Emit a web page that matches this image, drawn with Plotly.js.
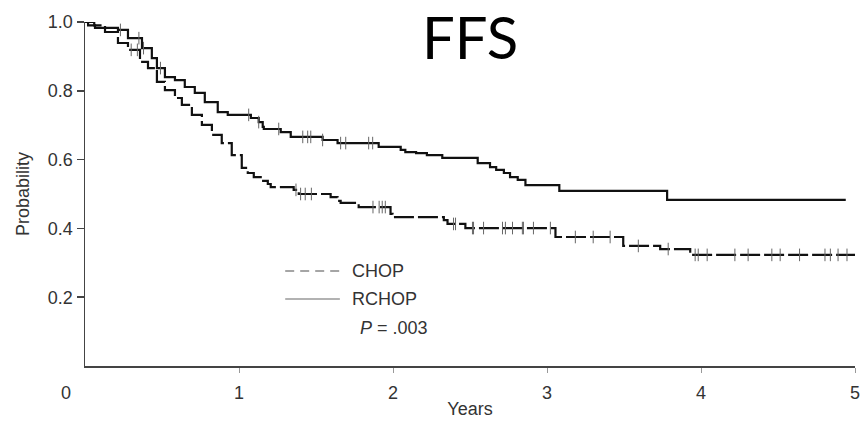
<!DOCTYPE html>
<html>
<head>
<meta charset="utf-8">
<script src="https://cdn.plot.ly/plotly-3.0.1.min.js"></script>
<style>
  html, body { margin: 0; padding: 0; background: #fff; }
  #chart { width: 864px; height: 421px; }
</style>
</head>
<body>
<div id="chart"></div>
<script>
// Kaplan-Meier failure-free survival, years since start of treatment
const rchopTime = [0, 0.02, 0.065, 0.214, 0.279, 0.37, 0.434, 0.467, 0.519, 0.584, 0.648, 0.713, 0.778, 0.862, 0.927, 1.077, 1.128, 1.154, 1.161, 1.271, 1.336, 1.543, 1.64, 1.907, 2.05, 2.08, 2.15, 2.22, 2.32, 2.55, 2.63, 2.67, 2.72, 2.76, 2.81, 2.86, 3.08, 3.78, 4.94];
const rchopSurv = [1.0, 0.99, 0.983, 0.977, 0.953, 0.924, 0.895, 0.866, 0.840, 0.831, 0.811, 0.794, 0.767, 0.738, 0.730, 0.721, 0.709, 0.695, 0.689, 0.680, 0.666, 0.657, 0.648, 0.637, 0.628, 0.622, 0.619, 0.613, 0.605, 0.590, 0.578, 0.570, 0.561, 0.549, 0.541, 0.526, 0.509, 0.483, 0.483];

const chopTime = [0, 0.06, 0.13, 0.214, 0.279, 0.357, 0.409, 0.467, 0.519, 0.584, 0.629, 0.694, 0.759, 0.824, 0.888, 0.953, 1.018, 1.057, 1.096, 1.141, 1.187, 1.206, 1.355, 1.388, 1.595, 1.64, 1.66, 1.777, 1.984, 1.997, 2.33, 2.354, 2.47, 3.055, 3.495, 3.735, 3.93, 5.0];
const chopSurv = [1.0, 0.99, 0.971, 0.939, 0.919, 0.884, 0.866, 0.826, 0.802, 0.779, 0.759, 0.730, 0.701, 0.672, 0.648, 0.613, 0.576, 0.561, 0.549, 0.538, 0.529, 0.520, 0.512, 0.500, 0.491, 0.480, 0.474, 0.462, 0.442, 0.433, 0.424, 0.413, 0.401, 0.375, 0.349, 0.340, 0.323, 0.323];

// censored observations (times)
const rchopCensored = [0.23, 0.35, 0.38, 0.49, 1.063, 1.128, 1.258, 1.414, 1.446, 1.466, 1.543, 1.66, 1.693, 1.842, 1.868];
const chopCensored = [0.30, 0.34, 1.37, 1.40, 1.43, 1.47, 1.87, 1.91, 1.93, 1.95, 2.393, 2.406, 2.516, 2.523, 2.588, 2.711, 2.73, 2.776, 2.84, 2.847, 2.912, 3.022, 3.184, 3.30, 3.41, 3.593, 3.787, 3.962, 3.982, 4.04, 4.22, 4.306, 4.46, 4.514, 4.64, 4.805, 4.84, 4.89, 4.948];

const yTicks = [0.2, 0.4, 0.6, 0.8, 1.0];
const xTicks = [1, 2, 3, 4, 5];

// value of a step function at time t
function stepAt(times, surv, t) {
  let v = surv[0];
  for (let i = 0; i < times.length; i++) {
    if (times[i] <= t) v = surv[i]; else break;
  }
  return v;
}

const ink = '#111';
const censorMarker = { symbol: 'line-ns-open', size: 9, color: '#666', line: { width: 1, color: '#666' } };

const traces = [
  {
    x: rchopTime, y: rchopSurv, type: 'scatter', mode: 'lines', name: 'RCHOP',
    line: { shape: 'hv', color: ink, width: 2.2 }, cliponaxis: false
  },
  {
    x: chopTime, y: chopSurv, type: 'scatter', mode: 'lines', name: 'CHOP',
    line: { shape: 'hv', color: ink, width: 2.2, dash: '20px,4px' }, cliponaxis: false
  },
  {
    x: rchopCensored, y: rchopCensored.map(t => stepAt(rchopTime, rchopSurv, t)),
    type: 'scatter', mode: 'markers', marker: censorMarker, showlegend: false, cliponaxis: false
  },
  {
    x: chopCensored, y: chopCensored.map(t => stepAt(chopTime, chopSurv, t)),
    type: 'scatter', mode: 'markers', marker: censorMarker, showlegend: false, cliponaxis: false
  }
];

const labelFont = { family: 'Liberation Sans, Arial, sans-serif', size: 18, color: '#333' };

const layout = {
  width: 864, height: 421,
  margin: { l: 85, r: 9, t: 22, b: 55 },
  paper_bgcolor: '#fff', plot_bgcolor: '#fff',
  showlegend: false,
  xaxis: {
    range: [0, 5], tickvals: xTicks, ticktext: xTicks.map(String),
    showgrid: false, zeroline: false,
    showline: true, linecolor: '#444', linewidth: 1.5,
    ticks: 'outside', ticklen: 5, tickcolor: '#999', tickwidth: 1,
    ticklabelstandoff: 5,
    tickfont: labelFont,
    title: { text: 'Years', font: labelFont, standoff: 0 }
  },
  yaxis: {
    range: [0, 1], tickvals: yTicks, ticktext: yTicks.map(v => v.toFixed(1)),
    showgrid: false, zeroline: false,
    showline: true, linecolor: '#444', linewidth: 1.5,
    ticks: 'outside', ticklen: 7, tickcolor: '#444', tickwidth: 1.5,
    tickfont: labelFont,
    title: { text: 'Probability', font: labelFont, standoff: 13 }
  },
  shapes: [
    { type: 'line', xref: 'paper', yref: 'paper', x0: 0.260, x1: 0.331, y0: 0.276, y1: 0.276,
      line: { color: '#888', width: 1.5, dash: '9px,6px' } },
    { type: 'line', xref: 'paper', yref: 'paper', x0: 0.260, x1: 0.331, y0: 0.195, y1: 0.195,
      line: { color: '#999', width: 1.5 } }
  ],
  annotations: [
    { text: 'FFS', xref: 'paper', yref: 'paper', x: 0.5, y: 0.958, xanchor: 'center', yanchor: 'middle',
      showarrow: false, font: { family: 'Lato, Open Sans, sans-serif', size: 58, color: '#000' } },
    { text: '0', xref: 'paper', yref: 'paper', x: 0, y: 0, xshift: -19, yshift: -27,
      xanchor: 'center', yanchor: 'middle', showarrow: false, font: labelFont },
    { text: 'CHOP', xref: 'paper', yref: 'paper', x: 0.344, y: 0.276, xanchor: 'left', yanchor: 'middle',
      showarrow: false, font: labelFont },
    { text: 'RCHOP', xref: 'paper', yref: 'paper', x: 0.344, y: 0.195, xanchor: 'left', yanchor: 'middle',
      showarrow: false, font: labelFont },
    { text: '<i>P</i> = .003', xref: 'paper', yref: 'paper', x: 0.355, y: 0.110, xanchor: 'left', yanchor: 'middle',
      showarrow: false, font: labelFont }
  ]
};

Plotly.newPlot('chart', traces, layout, { displayModeBar: false, staticPlot: true });
</script>
</body>
</html>
